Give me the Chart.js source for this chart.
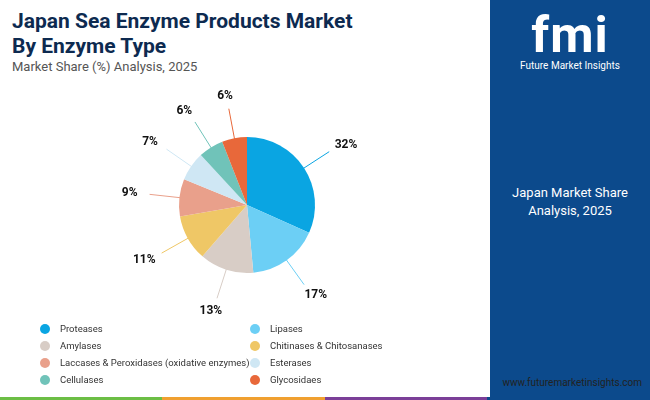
<!DOCTYPE html>
<html>
<head>
<meta charset="utf-8">
<script src="https://cdn.jsdelivr.net/npm/chart.js@4"></script>
<style>
body { margin:0; width:650px; height:400px; position:relative; overflow:hidden; background:#fff; font-family:Roboto, "Open Sans", sans-serif; }
#title { position:absolute; left:12px; top:9px; font-size:21px; font-weight:bold; color:#0d2a50; line-height:25px; }
#sub { position:absolute; left:12px; top:59px; font-size:13px; color:#555; }
#side { position:absolute; left:490px; top:0; width:160px; height:400px; background:#0c4a8c; color:#fff; text-align:center; }
#logo { position:absolute; top:6px; width:160px; font-size:50px; font-weight:bold; letter-spacing:1px; }
#logoTxt { position:absolute; top:60px; width:160px; font-size:10px; }
#share { position:absolute; top:184px; width:160px; font-size:13px; line-height:18px; }
#web { position:absolute; right:8px; top:377px; font-size:10px; color:#222; }
#wrap { position:absolute; left:0; top:85px; }
#legend { position:absolute; left:40px; top:323px; width:440px; font-size:9.5px; color:#333; }
.item { position:absolute; display:flex; align-items:center; }
.dot { width:10px; height:10px; border-radius:50%; margin-right:10px; }
#stripe { position:absolute; left:0; bottom:0; width:650px; height:3px; background:linear-gradient(90deg,#6cbe45 0 25%,#f0a030 25% 50%,#7b3f98 50% 75%,#0c4a8c 75% 100%); }
</style>
</head>
<body>
<div id="title">Japan Sea Enzyme Products Market<br>By Enzyme Type</div>
<div id="sub">Market Share (%) Analysis, 2025</div>
<div id="wrap"><canvas id="pie" width="494" height="240"></canvas></div>
<div id="legend"></div>
<div id="side">
  <div id="logo">fmi</div>
  <div id="logoTxt">Future Market Insights</div>
  <div id="share">Japan Market Share<br>Analysis, 2025</div>
</div>
<div id="web">www.futuremarketinsights.com</div>
<div id="stripe"></div>
<script>
const categories = ['Proteases', 'Lipases', 'Amylases', 'Chitinases & Chitosanases',
    'Laccases & Peroxidases (oxidative enzymes)', 'Esterases', 'Cellulases', 'Glycosidaes'];
const shares = [32, 17, 13, 11, 9, 7, 6, 6];
const colors = ['#0aa5e2', '#6ccff5', '#d8cdc6', '#efc766', '#e9a08b', '#cfe7f4', '#70c3b9', '#e8683a'];

// legend in two columns
const legend = document.getElementById('legend');
categories.forEach((c, i) => {
    const div = document.createElement('div');
    div.className = 'item';
    div.style.left = (i % 2 ? 210 : 0) + 'px';
    div.style.top = (Math.floor(i / 2) * 17) + 'px';
    div.innerHTML = `<span class="dot" style="background:${colors[i]}"></span>${c}`;
    legend.appendChild(div);
});

// leader lines and % labels
const labelPlugin = {
    id: 'labels',
    afterDraw(chart) {
        const ctx = chart.ctx;
        chart.getDatasetMeta(0).data.forEach((arc, i) => {
            const a = (arc.startAngle + arc.endAngle) / 2;
            const r = arc.outerRadius;
            const x1 = arc.x + Math.cos(a) * (r - 4), y1 = arc.y + Math.sin(a) * (r - 4);
            const x2 = arc.x + Math.cos(a) * (r + 30), y2 = arc.y + Math.sin(a) * (r + 30);
            ctx.strokeStyle = colors[i];
            ctx.lineWidth = 1;
            ctx.beginPath(); ctx.moveTo(x1, y1); ctx.lineTo(x2, y2); ctx.stroke();
            ctx.fillStyle = '#111';
            ctx.font = 'bold 12px Roboto';
            ctx.textBaseline = 'middle';
            ctx.textAlign = 'center';
            const lx = arc.x + Math.cos(a) * (r + 50), ly = arc.y + Math.sin(a) * (r + 43);
            ctx.fillText(shares[i] + '%', lx, ly);
        });
    }
};

new Chart(document.getElementById('pie'), {
    type: 'pie',
    data: { labels: categories, datasets: [{ data: shares, backgroundColor: colors, borderWidth: 0 }] },
    options: {
        responsive: false,
        animation: false,
        layout: { padding: { top: 52, bottom: 52, left: 0, right: 0 } },
        plugins: { legend: { display: false }, tooltip: { enabled: false } }
    },
    plugins: [labelPlugin]
});
</script>
</body>
</html>
